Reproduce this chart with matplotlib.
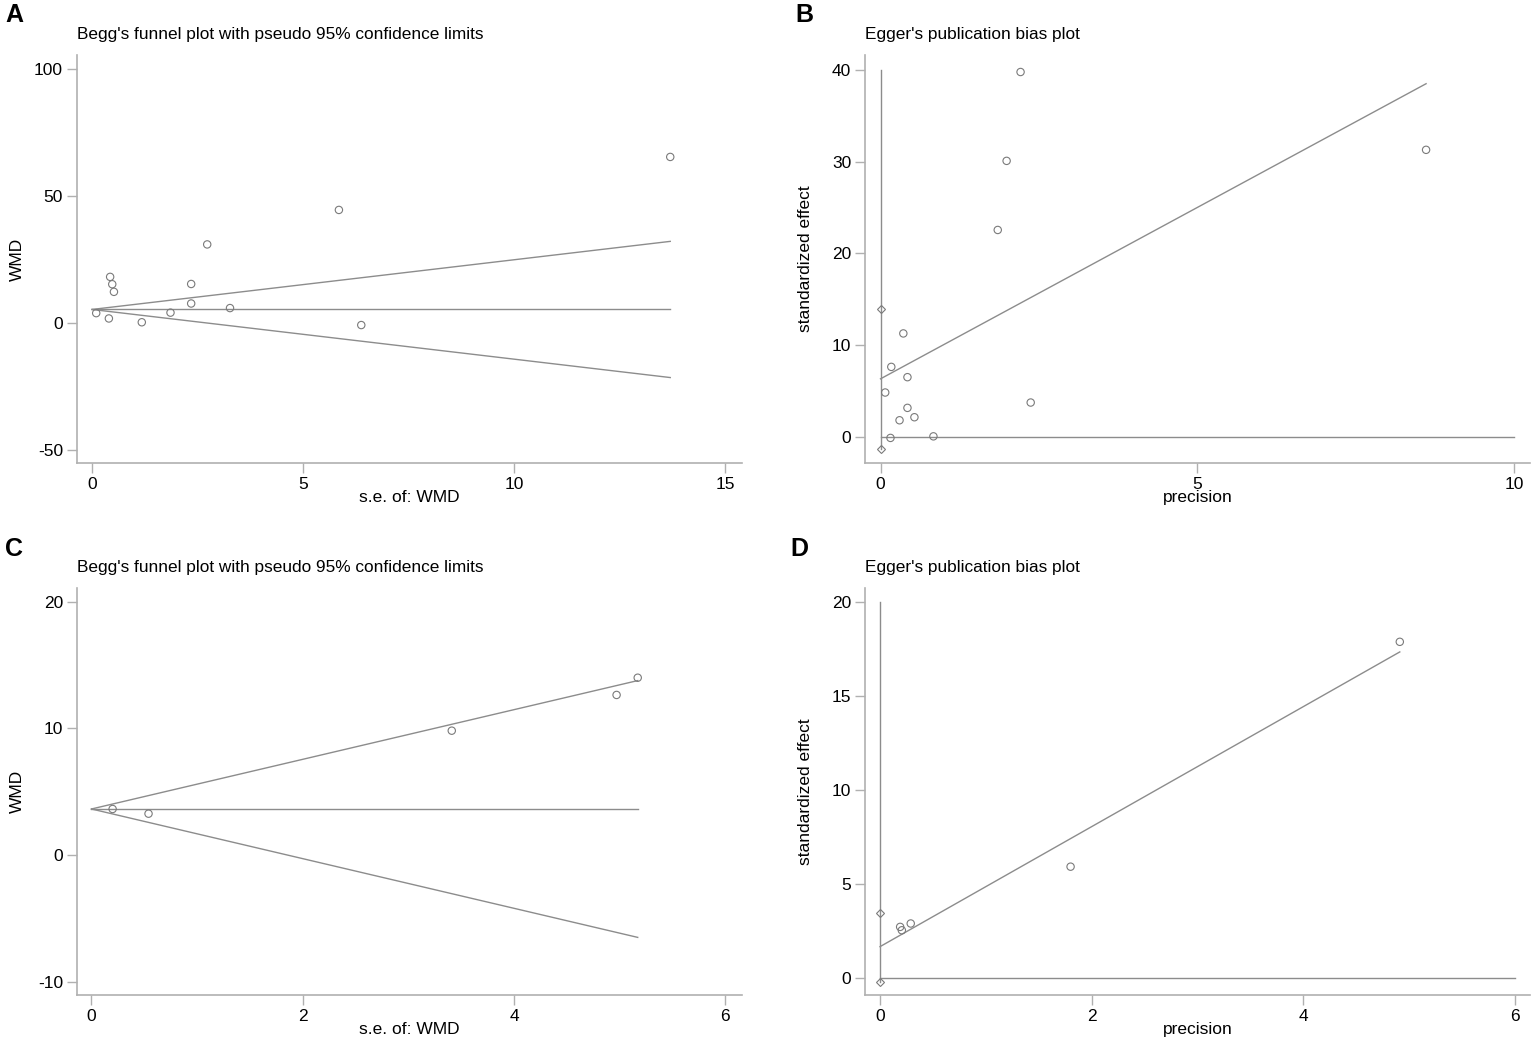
import matplotlib
matplotlib.use("Agg")
import matplotlib.pyplot as plt

plt.rcParams['font.family'] = ['Liberation Sans', 'DejaVu Sans']
plt.rcParams['axes.unicode_minus'] = False

# Panel A - Begg's funnel plot
se_a = [0.10, 0.40, 0.43, 0.48, 0.52, 1.18, 1.86, 2.35, 2.35, 2.73, 3.27, 5.85, 6.38, 13.70]
wmd_a = [3.8, 1.7, 18.1, 15.2, 12.2, 0.2, 4.0, 15.3, 7.6, 30.9, 5.8, 44.5, -0.9, 65.4]
pooled_a = 5.25

# Panel B - Egger's plot
prec_b = [0.36, 0.17, 0.425, 0.074, 2.37, 0.425, 0.535, 0.30, 0.157, 0.835, 1.85, 1.99, 2.21, 8.61]
std_b = [11.3, 7.66, 6.54, 4.87, 3.78, 3.2, 2.18, 1.85, -0.07, 0.1, 22.56, 30.08, 39.75, 31.28]
egger_b = (6.36, 3.73)          # intercept, slope
ci_b = (-1.27, 14.0)            # intercept CI

# Panel C - Begg's funnel plot
se_c = [0.20, 0.54, 3.41, 4.97, 5.17]
wmd_c = [3.63, 3.26, 9.81, 12.63, 13.99]
pooled_c = 3.63

# Panel D - Egger's plot
prec_d = [0.19, 0.206, 0.29, 1.80, 4.91]
std_d = [2.72, 2.54, 2.9, 5.92, 17.87]
egger_d = (1.67, 3.19)
ci_d = (-0.2, 3.48)

LINE = '#8c8c8c'
AXC = '#b0b0b0'

fig = plt.figure(figsize=(15.35, 10.45), dpi=100)
W, H = 1535, 1045


def make_ax(x0, y0, x1, y1):
    return fig.add_axes([x0 / W, 1 - y1 / H, (x1 - x0) / W, (y1 - y0) / H])


def style(ax, title, xlabel, ylabel, letter, letter_x, xlim, ylim, xticks, yticks):
    ax.set_xlim(xlim)
    ax.set_ylim(ylim)
    ax.set_xticks(xticks)
    ax.set_yticks(yticks)
    for s in ['top', 'right']:
        ax.spines[s].set_visible(False)
    for s in ['left', 'bottom']:
        ax.spines[s].set_color(AXC)
        ax.spines[s].set_linewidth(1.2)
    ax.tick_params(colors=AXC, labelcolor='black', length=7, width=1.0,
                   labelsize=12.5, pad=3)
    ax.set_xlabel(xlabel, fontsize=12.5)
    ax.set_ylabel(ylabel, fontsize=12.5, va='center')
    ax.xaxis.set_label_coords(0.5, -0.067)
    ax.yaxis.set_label_coords(-0.089, 0.5)
    ax.text(0.0, 1.05, title, transform=ax.transAxes, fontsize=12.4,
            ha='left', va='center')
    ax.text(letter_x, 1.097, letter, transform=ax.transAxes, fontsize=18,
            fontweight='bold', ha='left', va='center')


def funnel(ax, se, wmd, pooled):
    smax = max(se)
    ax.plot([0, smax], [pooled, pooled], color=LINE, lw=1.0)
    ax.plot([0, smax], [pooled, pooled + 1.96 * smax], color=LINE, lw=1.0)
    ax.plot([0, smax], [pooled, pooled - 1.96 * smax], color=LINE, lw=1.0)
    ax.scatter(se, wmd, s=28, facecolors='none', edgecolors='#7a7a7a', linewidths=0.8, zorder=3)


def egger(ax, prec, std, fit, ci, xmax, ytop):
    b0, b1 = fit
    pmax = max(prec)
    ax.plot([0, xmax], [0, 0], color=LINE, lw=1.0)
    ax.plot([0, 0], [ci[0], ytop], color=LINE, lw=1.0)
    ax.plot([0, 0], list(ci), linestyle='none', marker='D', ms=4,
            mfc='none', mec='#7a7a7a', mew=0.8)
    ax.plot([0, pmax], [b0, b0 + b1 * pmax], color=LINE, lw=1.0)
    ax.scatter(prec, std, s=28, facecolors='none', edgecolors='#7a7a7a', linewidths=0.8, zorder=3)


ax_a = make_ax(77, 55, 742, 463)
funnel(ax_a, se_a, wmd_a, pooled_a)
style(ax_a, "Begg's funnel plot with pseudo 95% confidence limits", 's.e. of: WMD', 'WMD', 'A', -0.108,
      (-0.355, 15.4), (-55.3, 105.6), [0, 5, 10, 15], [-50, 0, 50, 100])

ax_b = make_ax(865, 55, 1530, 463)
egger(ax_b, prec_b, std_b, egger_b, ci_b, 10, 40)
style(ax_b, "Egger's publication bias plot", 'precision', 'standardized effect', 'B', -0.105,
      (-0.245, 10.25), (-2.8, 41.6), [0, 5, 10], [0, 10, 20, 30, 40])

ax_c = make_ax(77, 588, 742, 995)
funnel(ax_c, se_c, wmd_c, pooled_c)
style(ax_c, "Begg's funnel plot with pseudo 95% confidence limits", 's.e. of: WMD', 'WMD', 'C', -0.108,
      (-0.137, 6.157), (-11.05, 21.07), [0, 2, 4, 6], [-10, 0, 10, 20])

ax_d = make_ax(865, 588, 1530, 995)
egger(ax_d, prec_d, std_d, egger_d, ci_d, 6, 20)
style(ax_d, "Egger's publication bias plot", 'precision', 'standardized effect', 'D', -0.112,
      (-0.142, 6.14), (-0.9, 20.73), [0, 2, 4, 6], [0, 5, 10, 15, 20])

fig.savefig('out.png', dpi=100)
